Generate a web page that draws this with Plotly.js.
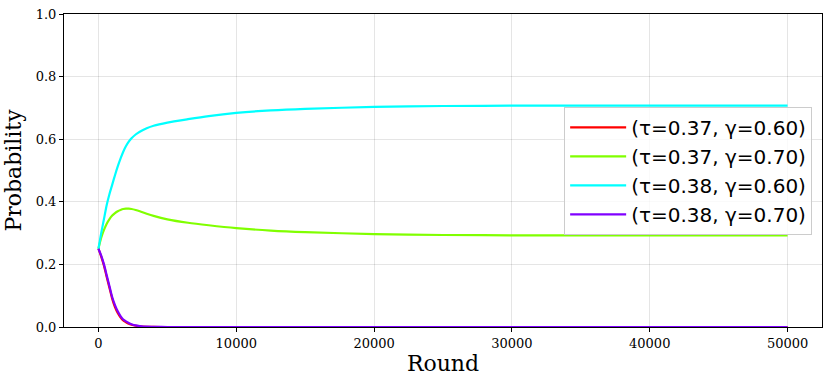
<!DOCTYPE html>
<html>
<head>
<meta charset="utf-8">
<script src="https://cdn.plot.ly/plotly-3.0.1.min.js"></script>
<style>
  html, body { margin: 0; padding: 0; background: white; }
  #grafica { width: 830px; height: 383px; }
</style>
</head>
<body>
<div id="grafica"></div>
<script>
// rondas muestreadas
const rondas = [0, 200, 400, 600, 800, 1000, 1200, 1400, 1600, 1800, 2000, 2200, 2400, 2700, 3000, 3500, 4000, 5000, 6500, 8000, 10000, 12500, 15000, 20000, 25000, 30000, 40000, 50000];

const probRojo   = [0.25, 0.225, 0.196, 0.16, 0.125, 0.09, 0.064, 0.045, 0.031, 0.021, 0.015, 0.010, 0.007, 0.004, 0.002, 0.0008, 0.0003, 0, 0, 0, 0, 0, 0, 0, 0, 0, 0, 0];
const probVerde  = [0.25, 0.285, 0.31, 0.33, 0.345, 0.356, 0.364, 0.37, 0.374, 0.377, 0.378, 0.378, 0.377, 0.374, 0.370, 0.362, 0.355, 0.344, 0.333, 0.325, 0.316, 0.308, 0.303, 0.297, 0.294, 0.293, 0.293, 0.293];
const probCian   = [0.25, 0.30, 0.345, 0.39, 0.425, 0.455, 0.485, 0.513, 0.538, 0.56, 0.578, 0.592, 0.603, 0.615, 0.624, 0.635, 0.643, 0.653, 0.664, 0.674, 0.684, 0.692, 0.697, 0.703, 0.706, 0.707, 0.707, 0.707];
const probMorado = [0.25, 0.228, 0.20, 0.165, 0.13, 0.095, 0.07, 0.05, 0.035, 0.024, 0.018, 0.013, 0.009, 0.005, 0.003, 0.001, 0.0005, 0, 0, 0, 0, 0, 0, 0, 0, 0, 0, 0];

const nombres = ['(τ=0.37, γ=0.60)', '(τ=0.37, γ=0.70)', '(τ=0.38, γ=0.60)', '(τ=0.38, γ=0.70)'];
const colores = ['#ff0000', '#80ff00', '#00ffff', '#8000ff'];
const series = [probRojo, probVerde, probCian, probMorado];

const traces = series.map((s, i) => ({
    x: rondas,
    y: s,
    mode: 'lines',
    name: nombres[i],
    line: { color: colores[i], width: 2.2, shape: 'spline', smoothing: 0.8 }
}));

const ejeComun = {
    showgrid: true,
    gridcolor: 'rgba(0,0,0,0.1)',
    gridwidth: 1,
    zeroline: false,
    showline: true,
    linecolor: 'black',
    linewidth: 1,
    mirror: true,
    ticks: 'outside',
    ticklen: 4,
    tickcolor: 'black',
    tickfont: { family: 'DejaVu Serif', size: 13, color: 'black' }
};

const layout = {
    width: 830,
    height: 383,
    margin: { l: 64, r: 8, t: 14, b: 56 },
    paper_bgcolor: 'white',
    plot_bgcolor: 'white',
    showlegend: true,
    xaxis: Object.assign({}, ejeComun, {
        range: [-2500, 52500],
        tickvals: [0, 10000, 20000, 30000, 40000, 50000],
        ticktext: ['0', '10000', '20000', '30000', '40000', '50000'],
        title: { text: 'Round', font: { family: 'DejaVu Serif', size: 22, color: 'black' }, standoff: 6 }
    }),
    yaxis: Object.assign({}, ejeComun, {
        range: [0, 1],
        tickvals: [0, 0.2, 0.4, 0.6, 0.8, 1.0],
        ticktext: ['0.0', '0.2', '0.4', '0.6', '0.8', '1.0'],
        title: { text: 'Probability', font: { family: 'DejaVu Serif', size: 22, color: 'black' }, standoff: 8 }
    }),
    legend: {
        x: 0.987,
        y: 0.703,
        xanchor: 'right',
        yanchor: 'top',
        bgcolor: 'rgba(255,255,255,0.8)',
        bordercolor: '#cccccc',
        borderwidth: 1,
        itemwidth: 56,
        font: { family: 'DejaVu Sans', size: 20, color: 'black' },
        tracegroupgap: 0
    }
};

Plotly.newPlot('grafica', traces, layout, { displayModeBar: false, responsive: false });
</script>
</body>
</html>
